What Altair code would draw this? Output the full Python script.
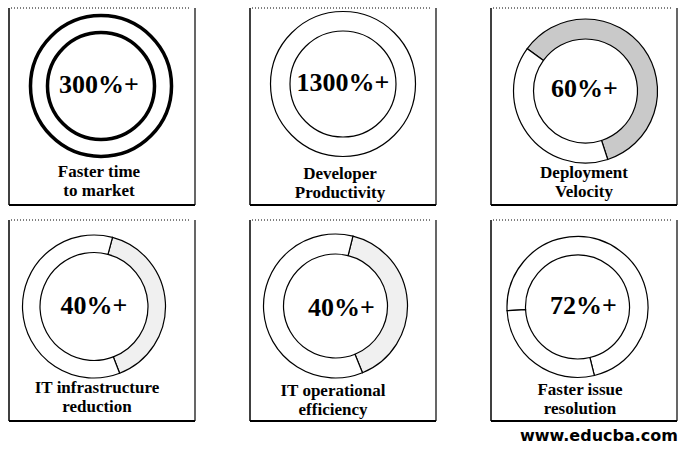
import math
import altair as alt

# ---- data ----
numbers = ["300%+", "1300%+", "60%+", "40%+", "40%+", "72%+"]
captions = ["Faster time\nto market", "Developer\nProductivity", "Deployment\nVelocity",
            "IT infrastructure\nreduction", "IT operational\nefficiency", "Faster issue\nresolution"]
shares = [100, 100, 60, 40, 40, 72]

# ---- styles / layout (not data) ----
start_deg = [0, 0, 306, 15, 14, 267]
hi_fill = ["white", "white", "#c9c9c9", "#f0f0f0", "#f0f0f0", "white"]
ring_sw = [3.5, 1.2, 1.2, 1.2, 1.2, 1.2]
r_out = [70.5, 72.5, 72, 71.5, 72, 70.5]
r_in = [53.5, 53, 52, 54, 52, 52]
centers = [(92, 78), (93, 76), (94.5, 83), (85, 86.5), (85.5, 86), (86.5, 87)]
num_pos = [(90, 77), (93, 75), (93.5, 81), (85, 85.5), (91.5, 87.5), (92.5, 86)]
cap_pos = [(90, 169), (90, 171), (93, 170), (88, 173), (83, 176), (89, 175)]
W = 186
H_rows = [197, 201]

one = alt.Data(values=[{"k": 1}])


def panel(i, H):
    s = shares[i]
    rows = [{"part": "hi", "v": s, "o": 0}]
    if s < 100:
        rows.append({"part": "rest", "v": 100 - s, "o": 1})
    a0 = math.radians(start_deg[i])
    cx, cy = centers[i]
    arc = alt.Chart(alt.Data(values=rows)).mark_arc(
        innerRadius=r_in[i], outerRadius=r_out[i], stroke="black", strokeWidth=ring_sw[i]
    ).encode(
        theta=alt.Theta("v:Q", stack=True,
                        scale=alt.Scale(domain=[0, 100], range=[a0, a0 + 2 * math.pi])),
        order=alt.Order("o:Q"),
        fill=alt.Fill("part:N", scale=alt.Scale(domain=["hi", "rest"], range=[hi_fill[i], "white"]),
                      legend=None),
        x=alt.value(cx), y=alt.value(cy),
    )
    nx, ny = num_pos[i]
    num = alt.Chart(alt.Data(values=[{"t": numbers[i]}])).mark_text(
        font="Liberation Serif", fontWeight="bold", fontSize=26, align="center",
        baseline="middle", color="black"
    ).encode(text="t:N", x=alt.value(nx), y=alt.value(ny))
    lx, ly = cap_pos[i]
    cap = alt.Chart(alt.Data(values=[{"t": captions[i]}])).mark_text(
        font="Liberation Serif", fontWeight="bold", fontSize=17, align="center",
        baseline="alphabetic", lineBreak="\n", lineHeight=19, color="black"
    ).encode(text="t:N", x=alt.value(lx), y=alt.value(ly))
    left = alt.Chart(one).mark_rule(color="black", strokeWidth=1.5).encode(
        x=alt.value(0), y=alt.value(0), y2=alt.value(H))
    right = alt.Chart(one).mark_rule(color="black", strokeWidth=1.2).encode(
        x=alt.value(W), y=alt.value(0), y2=alt.value(H))
    bottom = alt.Chart(one).mark_rule(color="black", strokeWidth=2).encode(
        x=alt.value(0), x2=alt.value(W), y=alt.value(H))
    top = alt.Chart(one).mark_rule(color="black", strokeWidth=1, strokeDash=[1, 2]).encode(
        x=alt.value(2), x2=alt.value(W - 4), y=alt.value(0))
    return alt.layer(arc, num, cap, left, right, bottom, top).properties(width=W, height=H)


row1 = alt.hconcat(*[panel(i, H_rows[0]) for i in range(3)], spacing=53).resolve_scale(
    theta="independent", fill="independent")
row2 = alt.hconcat(*[panel(i, H_rows[1]) for i in range(3, 6)], spacing=53).resolve_scale(
    theta="independent", fill="independent")

chart = alt.vconcat(row1, row2, spacing=13).resolve_scale(
    theta="independent", fill="independent"
).properties(
    title=alt.TitleParams("www.educba.com", orient="bottom", anchor="end", font="DejaVu Sans",
                          fontWeight="bold", fontSize=16, color="black", offset=6),
    padding={"left": 8, "top": 7, "right": 4, "bottom": 4},
    background="white",
).configure_view(stroke=None)

chart.save("out.html", embed_options={"renderer": "svg", "actions": False})
